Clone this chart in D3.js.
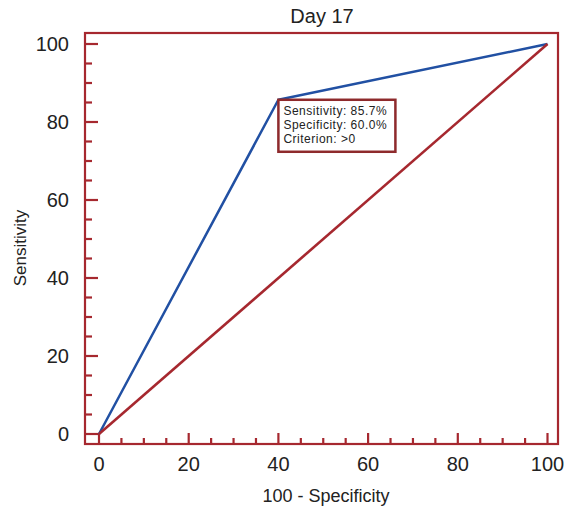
<!DOCTYPE html>
<html lang="en">
<head>
<meta charset="UTF-8">
<title>Day 17 ROC</title>
<script src="https://d3js.org/d3.v7.min.js"></script>
<style>
  body { margin: 0; padding: 0; background: white; }
  svg { display: block; font-family: "Liberation Sans", Arial, sans-serif; }
</style>
</head>
<body>
<div id="chart"></div>
<script>
// data
const rocX = [0, 40, 100];          // 100 - Specificity
const rocY = [0, 85.7, 100];        // Sensitivity
const refX = [0, 100];
const refY = [0, 100];
const majorTicks = [0, 20, 40, 60, 80, 100];
const minorTicks = d3.range(0, 101, 5).filter(v => v % 20 !== 0);
const infoLines = ["Sensitivity: 85.7%", "Specificity: 60.0%", "Criterion: >0"];

const width = 568, height = 508;
const frame = { left: 85, right: 558, top: 33, bottom: 444 };
const dark = "#a6282f";
const blue = "#2150a3";

const x = d3.scaleLinear().domain([0, 100]).range([99, 547.5]);
const y = d3.scaleLinear().domain([0, 100]).range([434, 44]);

const svg = d3.select("#chart").append("svg")
    .attr("width", width)
    .attr("height", height);

// title
svg.append("text")
    .attr("x", 322).attr("y", 23)
    .attr("text-anchor", "middle")
    .style("font-size", "20px")
    .attr("fill", "#222")
    .text("Day 17");

// frame
svg.append("rect")
    .attr("x", frame.left).attr("y", frame.top)
    .attr("width", frame.right - frame.left)
    .attr("height", frame.bottom - frame.top)
    .attr("fill", "none")
    .attr("stroke", dark)
    .attr("stroke-width", 2.2);

// y ticks (pointing inward)
const gy = svg.append("g");
gy.selectAll("line.maj").data(majorTicks).join("line")
    .attr("x1", frame.left).attr("x2", frame.left + 13)
    .attr("y1", d => y(d)).attr("y2", d => y(d))
    .attr("stroke", dark).attr("stroke-width", 2.2);
gy.selectAll("line.min").data(minorTicks).join("line")
    .attr("x1", frame.left).attr("x2", frame.left + 7)
    .attr("y1", d => y(d)).attr("y2", d => y(d))
    .attr("stroke", dark).attr("stroke-width", 2.2);
gy.selectAll("text").data(majorTicks).join("text")
    .attr("x", 69).attr("y", d => y(d))
    .attr("dy", "0.36em")
    .attr("text-anchor", "end")
    .style("font-size", "20px")
    .attr("fill", "#222")
    .text(d => d);

// x ticks (pointing inward)
const gx = svg.append("g");
gx.selectAll("line.maj").data(majorTicks).join("line")
    .attr("x1", d => x(d)).attr("x2", d => x(d))
    .attr("y1", frame.bottom).attr("y2", frame.bottom - 11)
    .attr("stroke", dark).attr("stroke-width", 2.2);
gx.selectAll("line.min").data(minorTicks).join("line")
    .attr("x1", d => x(d)).attr("x2", d => x(d))
    .attr("y1", frame.bottom).attr("y2", frame.bottom - 6)
    .attr("stroke", dark).attr("stroke-width", 2.2);
gx.selectAll("text").data(majorTicks).join("text")
    .attr("x", d => x(d)).attr("y", 471)
    .attr("text-anchor", "middle")
    .style("font-size", "20px")
    .attr("fill", "#222")
    .text(d => d);

// axis titles
svg.append("text")
    .attr("x", 326).attr("y", 502)
    .attr("text-anchor", "middle")
    .style("font-size", "18px")
    .attr("fill", "#222")
    .text("100 - Specificity");

svg.append("text")
    .attr("transform", "translate(26,248) rotate(-90)")
    .attr("text-anchor", "middle")
    .style("font-size", "17px")
    .attr("fill", "#222")
    .text("Sensitivity");

// curves
const line = d3.line().x(d => x(d[0])).y(d => y(d[1]));

svg.append("path")
    .datum(rocX.map((v, i) => [v, rocY[i]]))
    .attr("d", line)
    .attr("fill", "none")
    .attr("stroke", blue)
    .attr("stroke-width", 2.5)
    .attr("stroke-linejoin", "round");

svg.append("path")
    .datum(refX.map((v, i) => [v, refY[i]]))
    .attr("d", line)
    .attr("fill", "none")
    .attr("stroke", dark)
    .attr("stroke-width", 2.6);

// info box anchored at the cut-off point
const bx = x(rocX[1]), by = y(rocY[1]);
const box = svg.append("g").attr("transform", `translate(${bx},${by})`);
box.append("rect")
    .attr("x", 0).attr("y", 0)
    .attr("width", 117).attr("height", 52)
    .attr("fill", "white")
    .attr("stroke", "#8e2a2c")
    .attr("stroke-width", 2.5);
box.selectAll("text").data(infoLines).join("text")
    .attr("x", 5)
    .attr("y", (d, i) => 15 + i * 14)
    .style("font-size", "12px")
    .style("letter-spacing", "0.5px")
    .attr("fill", "#222")
    .text(d => d);
</script>
</body>
</html>
